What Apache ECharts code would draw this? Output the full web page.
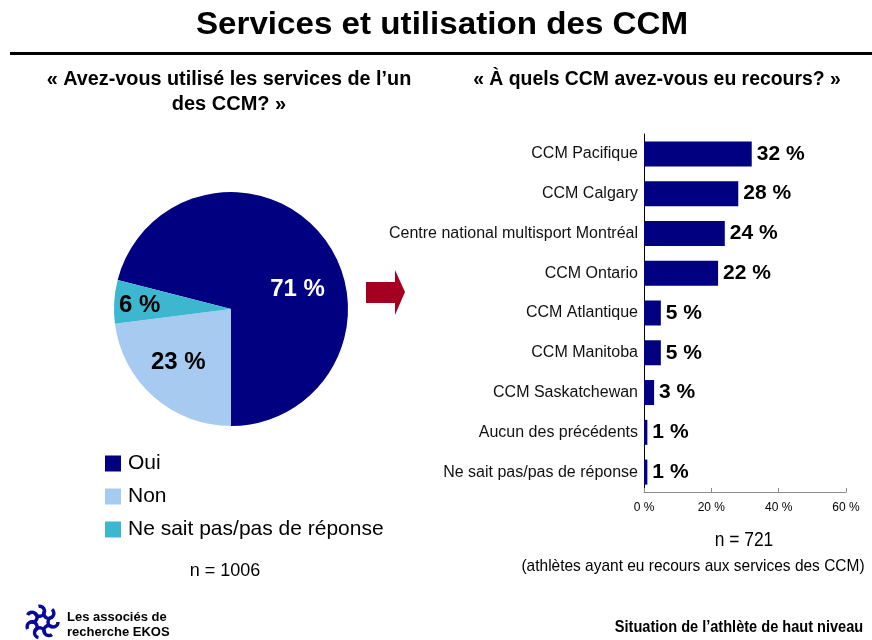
<!DOCTYPE html>
<html lang="fr">
<head>
<meta charset="UTF-8">
<title>Services et utilisation des CCM</title>
<script src="https://cdn.jsdelivr.net/npm/echarts@6/dist/echarts.min.js"></script>
<style>
  html, body { margin: 0; padding: 0; background: #fff; }
  #chart { width: 872px; height: 640px; }
</style>
</head>
<body>
<div id="chart"></div>
<script>
// pie: "Avez-vous utilisé les services de l'un des CCM?"
const pieNames = ['Oui', 'Non', 'Ne sait pas/pas de réponse'];
const pieValues = [71, 23, 6];

// bars: "À quels CCM avez-vous eu recours?"
const centres = ['CCM Pacifique', 'CCM Calgary', 'Centre national multisport Montréal', 'CCM Ontario',
  'CCM Atlantique', 'CCM Manitoba', 'CCM Saskatchewan', 'Aucun des précédents', 'Ne sait pas/pas de réponse'];
const centreValues = [32, 28, 24, 22, 5, 5, 3, 1, 1];
const xTicks = [0, 20, 40, 60];

const pieColors = ['#000080', '#A6CAF0', '#3DB6CF'];
const pieLabelColors = ['#fff', '#000', '#000'];
const pieLabelOffsets = [[18, 18], [-12, 7], [-30, 0]];

const ARIAL = "'Liberation Sans', Arial, sans-serif";

var chart = echarts.init(document.getElementById('chart'));

// text helper; sx squeezes the text to look like the narrow face of the original
function txt(text, x, y, size, opts) {
  opts = opts || {};
  return {
    type: 'text', x: x, y: y, silent: true, scaleX: opts.sx || 1,
    style: {
      text: text, fill: opts.color || '#000',
      font: (opts.bold ? 'bold ' : '') + size + 'px ' + ARIAL,
      textAlign: opts.align || 'center', textVerticalAlign: 'middle'
    }
  };
}

// ring of swirls for the logo
const logo = [];
for (let i = 0; i < 7; i++) {
  const a = i / 7 * Math.PI * 2;
  logo.push({
    type: 'arc', silent: true,
    shape: { cx: 42 + Math.cos(a) * 11, cy: 622 + Math.sin(a) * 11, r: 5, startAngle: a, endAngle: a + Math.PI * 1.5 },
    style: { stroke: '#0A0A9A', lineWidth: 3.5, fill: null }
  });
}

var option = {
  backgroundColor: '#fff',
  animation: false,
  color: pieColors,
  legend: {
    orient: 'vertical', left: 100, top: 446,
    icon: 'rect', itemWidth: 16, itemHeight: 16, itemGap: 8,
    selectedMode: false,
    data: pieNames,
    textStyle: { fontFamily: ARIAL, fontSize: 21, color: '#000', lineHeight: 25, padding: [0, 0, 0, 2] }
  },
  grid: { left: 644, right: 26, top: 134, bottom: 148 },
  xAxis: {
    type: 'value', min: 0, max: 60, interval: 20,
    axisLine: { show: true, lineStyle: { color: '#8c8c8c' } },
    axisTick: { show: true, inside: true, length: 4, lineStyle: { color: '#8c8c8c' } },
    splitLine: { show: false },
    axisLabel: { formatter: '{value} %', fontFamily: ARIAL, fontSize: 12, color: '#000', margin: 10,
      customValues: xTicks }
  },
  yAxis: {
    type: 'category', data: centres, inverse: true,
    axisLine: { show: true, lineStyle: { color: '#000' } },
    axisTick: { show: false },
    axisLabel: { fontFamily: ARIAL, fontSize: 16, color: '#111', margin: 6 }
  },
  series: [
    {
      type: 'pie', center: [231, 309], radius: 117,
      startAngle: 165.6, clockwise: true,
      legendHoverLink: false,
      label: { position: 'inside', formatter: '{c} %', fontFamily: ARIAL, fontWeight: 'bold', fontSize: 24 },
      labelLine: { show: false },
      emphasis: { disabled: true },
      data: pieNames.map((n, i) => ({
        name: n, value: pieValues[i],
        label: { color: pieLabelColors[i], offset: pieLabelOffsets[i] }
      }))
    },
    {
      type: 'bar', data: centreValues, barWidth: 25,
      itemStyle: { color: '#000080' },
      label: { show: true, position: 'right', distance: 5, formatter: '{c} %',
        fontFamily: ARIAL, fontWeight: 'bold', fontSize: 21, color: '#000' },
      emphasis: { disabled: true }
    }
  ],
  graphic: [
    txt('Services et utilisation des CCM', 442, 25, 31, { bold: true, sx: 1.07 }),
    { type: 'rect', silent: true, shape: { x: 10, y: 52, width: 862, height: 3 }, style: { fill: '#000' } },
    txt('« Avez-vous utilisé les services de l\u2019un', 229, 79, 20, { bold: true, sx: 0.99 }),
    txt('des CCM? »', 229, 104, 20, { bold: true }),
    txt('« À quels CCM avez-vous eu recours? »', 657, 79, 20, { bold: true, sx: 0.97 }),
    { type: 'polygon', silent: true,
      shape: { points: [[366, 282], [395, 282], [395, 270], [405, 292], [395, 315], [395, 303], [366, 303]] },
      style: { fill: '#A50021' } },
    txt('n = 1006', 225, 571, 18),
    txt('n = 721', 744, 540, 20, { sx: 0.87 }),
    txt('(athlètes ayant eu recours aux services des CCM)', 693, 566, 17, { sx: 0.91 }),
    txt('Situation de l\u2019athlète de haut niveau', 739, 628, 16, { bold: true, sx: 0.91 }),
    txt('Les associés de', 67, 617, 13, { bold: true, align: 'left' }),
    txt('recherche EKOS', 67, 632, 13, { bold: true, align: 'left' })
  ].concat(logo)
};

option && chart.setOption(option);
</script>
</body>
</html>
